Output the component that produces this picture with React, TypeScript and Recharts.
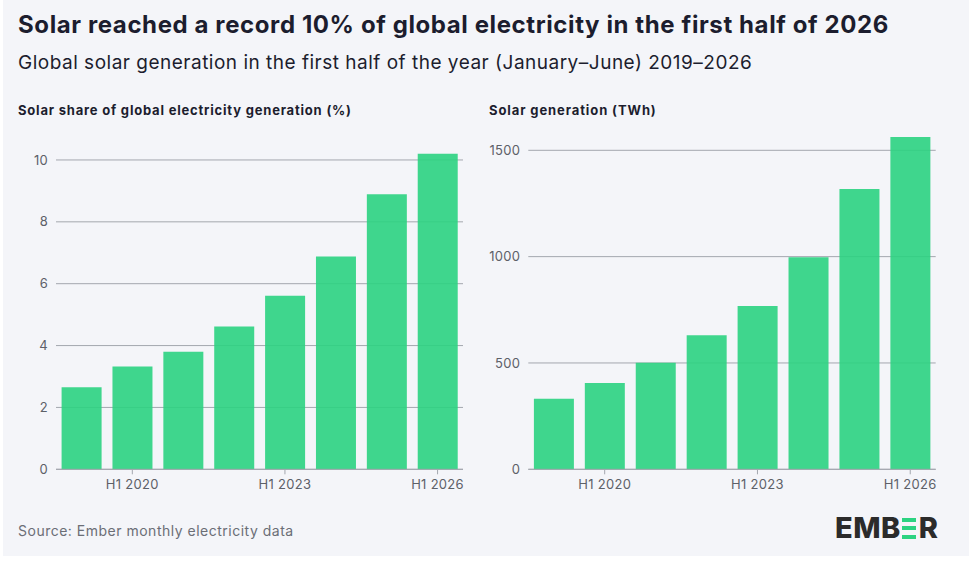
import React from 'react';
import { BarChart, Bar, XAxis, YAxis, CartesianGrid } from 'recharts';

const periods = ['H1 2019', 'H1 2020', 'H1 2021', 'H1 2022', 'H1 2023', 'H1 2024', 'H1 2025', 'H1 2026'];
const solarSharePct = [2.65, 3.32, 3.8, 4.62, 5.61, 6.88, 8.89, 10.2];
const solarTWh = [332, 406, 501, 630, 768, 997, 1318, 1562];
const xTickLabels = ['H1 2020', 'H1 2023', 'H1 2026'];
const shareTicks = [0, 2, 4, 6, 8, 10];
const twhTicks = [0, 500, 1000, 1500];

const shareData = periods.map((p, i) => ({ period: p, value: solarSharePct[i] }));
const twhData = periods.map((p, i) => ({ period: p, value: solarTWh[i] }));

const FONT = 'Inter, "Open Sans", sans-serif';
const GREEN = '#2bd381';
const DARK = '#1c1d2e';
const GRID = '#a3a7ae';
const TICK = '#5d6068';

const tickStyle = { fill: TICK, fontSize: 13, fontFamily: FONT, letterSpacing: 0.3 };

const gridFor = (ticks: number[]) => (props: any) => {
  const scale = props && props.yAxis && props.yAxis.scale;
  if (typeof scale === 'function') {
    return ticks.map((t) => scale(t));
  }
  if (scale && typeof scale.map === 'function') {
    return ticks.map((t) => scale.map(t));
  }
  return [];
};

export default function App() {
  return (
    <div style={{ position: 'absolute', left: 0, top: 0, width: 972, height: 562, background: '#ffffff', fontFamily: FONT }}>
      <div style={{ position: 'absolute', left: 3, top: 0, width: 966, height: 556, background: '#f4f5f9' }} />
      <div style={{ position: 'absolute', left: 18, top: 8, fontSize: 24, fontWeight: 700, color: DARK, whiteSpace: 'nowrap', lineHeight: '34px', letterSpacing: 0.6 }}>
        Solar reached a record 10% of global electricity in the first half of 2026
      </div>
      <div style={{ position: 'absolute', left: 18, top: 49, fontSize: 19, fontWeight: 400, color: DARK, whiteSpace: 'nowrap', lineHeight: '28px', letterSpacing: 0.5 }}>
        Global solar generation in the first half of the year (January–June) 2019–2026
      </div>
      <div style={{ position: 'absolute', left: 18, top: 101, fontSize: 13, fontWeight: 700, color: DARK, whiteSpace: 'nowrap', lineHeight: '18px', letterSpacing: 0.8 }}>
        Solar share of global electricity generation (%)
      </div>
      <div style={{ position: 'absolute', left: 489, top: 101, fontSize: 13, fontWeight: 700, color: DARK, whiteSpace: 'nowrap', lineHeight: '18px', letterSpacing: 0.9 }}>
        Solar generation (TWh)
      </div>

      <div style={{ position: 'absolute', left: 0, top: 0 }}>
        <BarChart width={480} height={510} data={shareData} margin={{ top: 144.5, right: 17, left: 0, bottom: 10.7 }} barCategoryGap="11%">
          <CartesianGrid vertical={false} stroke={GRID} strokeWidth={1} horizontalCoordinatesGenerator={gridFor(shareTicks)} />
          <XAxis dataKey="period" ticks={xTickLabels} height={30} tick={tickStyle} tickSize={5} tickMargin={5} axisLine={{ stroke: GRID }} tickLine={{ stroke: GRID }} />
          <YAxis domain={[0, 10.5]} ticks={shareTicks} width={56} tick={tickStyle} axisLine={false} tickLine={false} tickSize={6} tickMargin={2} />
          <Bar dataKey="value" fill={GREEN} fillOpacity={0.9} isAnimationActive={false} />
        </BarChart>
      </div>

      <div style={{ position: 'absolute', left: 480, top: 0 }}>
        <BarChart width={480} height={510} data={twhData} margin={{ top: 118.4, right: 24.3, left: 0, bottom: 10.7 }} barCategoryGap="11%">
          <CartesianGrid vertical={false} stroke={GRID} strokeWidth={1} horizontalCoordinatesGenerator={gridFor(twhTicks)} />
          <XAxis dataKey="period" ticks={xTickLabels} height={30} tick={tickStyle} tickSize={5} tickMargin={5} axisLine={{ stroke: GRID }} tickLine={{ stroke: GRID }} />
          <YAxis domain={[0, 1650]} ticks={twhTicks} width={48.3} tick={tickStyle} axisLine={false} tickLine={false} tickSize={6} tickMargin={2} />
          <Bar dataKey="value" fill={GREEN} fillOpacity={0.9} isAnimationActive={false} />
        </BarChart>
      </div>

      <div style={{ position: 'absolute', left: 18, top: 521, fontSize: 14, color: '#6b6e76', whiteSpace: 'nowrap', lineHeight: '20px', letterSpacing: 0.5 }}>
        Source: Ember monthly electricity data
      </div>

      <div style={{ position: 'absolute', left: 835, top: 513, height: 30, display: 'flex', alignItems: 'center', fontSize: 29, fontWeight: 800, color: '#2b2b2b', letterSpacing: 0.5, lineHeight: '30px', whiteSpace: 'nowrap' }}>
        <span>EMB</span>
        <span style={{ display: 'inline-flex', flexDirection: 'column', justifyContent: 'space-between', width: 14, height: 21, marginRight: 3, marginLeft: 1 }}>
          <span style={{ display: 'block', height: 4, background: GREEN }} />
          <span style={{ display: 'block', height: 4, background: GREEN }} />
          <span style={{ display: 'block', height: 4, background: GREEN }} />
        </span>
        <span>R</span>
      </div>
    </div>
  );
}
